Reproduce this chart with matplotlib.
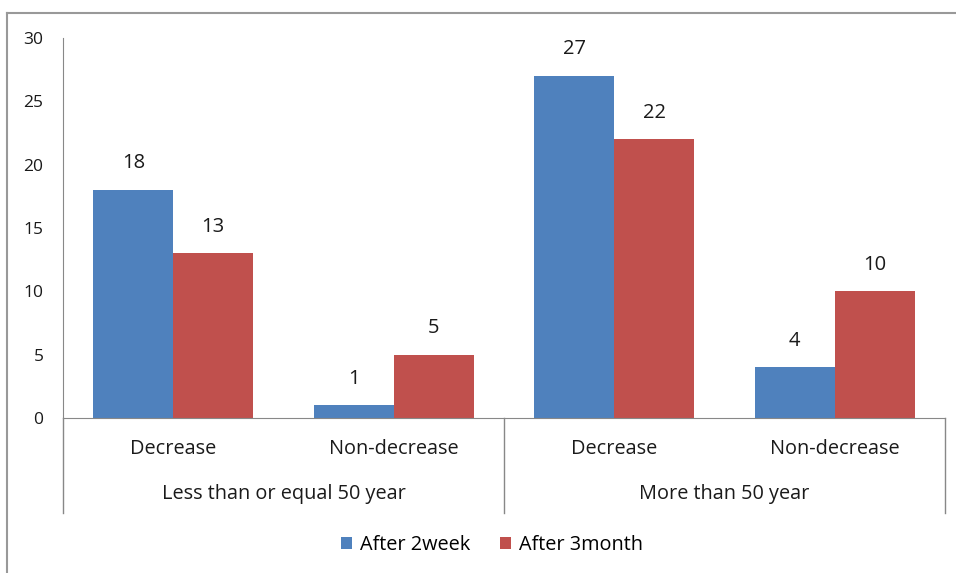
import matplotlib.pyplot as plt
import numpy as np
from matplotlib.lines import Line2D

plt.rcParams['font.family'] = ['Open Sans', 'DejaVu Sans']

grupos = ['Less than or equal 50 year', 'More than 50 year']
categorias = ['Decrease', 'Non-decrease', 'Decrease', 'Non-decrease']
series = ['After 2week', 'After 3month']
semanas2 = [18, 1, 27, 4]
meses3 = [13, 5, 22, 10]
cores = ['#4F81BD', '#C0504D']

fig = plt.figure(figsize=(9.56, 5.73), dpi=100)
W, H = 956, 573
ax = fig.add_axes([63 / W, 1 - 418 / H, (945 - 63) / W, (418 - 38) / H])

x = np.arange(len(categorias))
largura = 0.362
b1 = ax.bar(x - largura / 2, semanas2, largura, color=cores[0], label=series[0])
b2 = ax.bar(x + largura / 2, meses3, largura, color=cores[1], label=series[1])

for barras in (b1, b2):
    ax.bar_label(barras, padding=12, fontsize=14.5, color='#1a1a1a')

ax.set_xlim(-0.5, len(categorias) - 0.5)
ax.set_ylim(0, 30)
ax.set_yticks(range(0, 31, 5))
ax.tick_params(axis='y', length=0, pad=14, labelsize=12.5, colors='#1a1a1a')
ax.set_xticks([])
for lado in ['top', 'right']:
    ax.spines[lado].set_visible(False)
ax.spines['left'].set_color('#888888')
ax.spines['bottom'].set_color('#888888')

# rótulos das categorias e dos grupos abaixo do eixo
trans = ax.get_xaxis_transform()
for i, cat in enumerate(categorias):
    ax.text(i, -31 / 380, cat, transform=trans, ha='center', va='center',
            fontsize=14.3, color='#1a1a1a')
for g, nome in enumerate(grupos):
    ax.text(2 * g + 0.5, -76 / 380, nome, transform=trans, ha='center',
            va='center', fontsize=14.3, color='#1a1a1a')

# linhas separadoras dos grupos
for xs in [-0.5, 1.5, 3.5]:
    ax.add_line(Line2D([xs, xs], [0, -95 / 380], transform=trans,
                       color='#888888', lw=1, clip_on=False))

ax.legend(handles=[b1, b2], loc='center', ncol=2, frameon=False,
          fontsize=14.3, handlelength=0.55, handleheight=0.55,
          handletextpad=0.4, columnspacing=1.5,
          bbox_to_anchor=(492 / W, 1 - 545 / H),
          bbox_transform=fig.transFigure)

# moldura da figura
fig.add_artist(Line2D([7 / W, 1], [1 - 13 / H, 1 - 13 / H], color='#999999', lw=1.5))
fig.add_artist(Line2D([7 / W, 7 / W], [0, 1 - 13 / H], color='#999999', lw=1.5))

plt.savefig('out.png', dpi=100)
